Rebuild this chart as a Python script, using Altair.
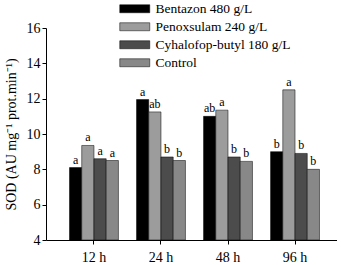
import altair as alt
import pandas as pd

times = ["12 h", "24 h", "48 h", "96 h"]
treatments = ["Bentazon 480 g/L", "Penoxsulam 240 g/L", "Cyhalofop-butyl 180 g/L", "Control"]
bentazon = [8.1, 11.95, 11.0, 9.0]
penoxsulam = [9.35, 11.25, 11.35, 12.5]
cyhalofop = [8.6, 8.7, 8.7, 8.9]
control = [8.5, 8.5, 8.45, 8.0]
letters_bentazon = ["a", "a", "ab", "b"]
letters_penoxsulam = ["a", "ab", "a", "a"]
letters_cyhalofop = ["a", "b", "b", "b"]
letters_control = ["a", "b", "b", "b"]
colors = ["#000000", "#9c9c9c", "#4c4c4c", "#888888"]

rows = []
for tr, vals, lets in zip(treatments,
                          [bentazon, penoxsulam, cyhalofop, control],
                          [letters_bentazon, letters_penoxsulam, letters_cyhalofop, letters_control]):
    for t, v, l in zip(times, vals, lets):
        rows.append({"time": t, "treatment": tr, "value": v, "letter": l})
df = pd.DataFrame(rows)

font = "Liberation Serif"

x = alt.X("time:N", sort=times, title=None,
          scale=alt.Scale(paddingInner=0.27, paddingOuter=0.306, align=0.573),
          axis=alt.Axis(labelAngle=0, labelFont=font, labelFontSize=14, labelColor="black",
                        domainColor="black", tickColor="black", tickSize=4, labelPadding=6))
xo = alt.XOffset("treatment:N", sort=treatments, scale=alt.Scale(paddingInner=0, paddingOuter=0))
y = alt.Y("value:Q", scale=alt.Scale(domain=[4, 16], zero=False, nice=False),
          title="SOD (AU mg⁻¹ prot.min⁻¹)", stack=None,
          axis=alt.Axis(values=[4, 6, 8, 10, 12, 14, 16], grid=False, labelFont=font,
                        labelFontSize=14, labelColor="black", domainColor="black",
                        tickColor="black", tickSize=4, titleFont=font, titleFontSize=14,
                        titleFontWeight="normal", titleColor="black", titlePadding=8))

color = alt.Color("treatment:N", sort=treatments,
                  scale=alt.Scale(domain=treatments, range=colors),
                  legend=alt.Legend(title=None, orient="none", legendX=82, legendY=-26,
                                    symbolType="M-5,-1.33H5V1.33H-5Z", symbolSize=36,
                                    symbolStrokeColor="black", symbolStrokeWidth=0.5,
                                    symbolOpacity=1, labelFont=font, labelFontSize=13.5,
                                    labelColor="black", rowPadding=3, labelOffset=14))

bars = alt.Chart(df).mark_bar(stroke="black", strokeWidth=0.5, opacity=1).encode(
    x=x, xOffset=xo, y=y, y2=alt.datum(4), color=color)

text = alt.Chart(df).mark_text(baseline="bottom", dy=-1, font=font, fontSize=12, color="black").encode(
    x=x, xOffset=xo, y=y, text="letter:N")

chart = alt.layer(bars, text).properties(
    width=291, height=212, padding={"left": 4, "top": 2, "right": 0, "bottom": 0}
).configure(font=font).configure_view(stroke=None).configure_axis(labelFontWeight="normal")

chart.save("out.html", embed_options={"renderer": "svg", "actions": False})
